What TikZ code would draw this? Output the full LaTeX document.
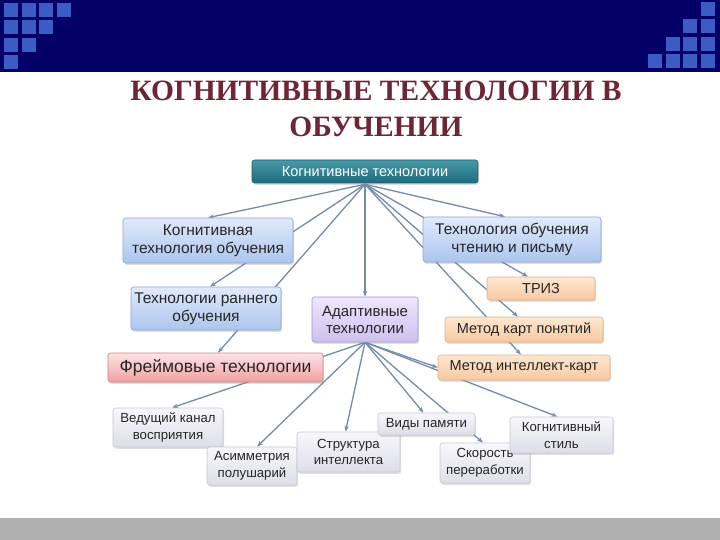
\documentclass[tikz,border=0pt]{standalone}
\usepackage{fontspec}
\setmainfont{Liberation Serif}
\newfontfamily\nsans{Liberation Sans}
\usetikzlibrary{arrows.meta,shadows,backgrounds}
\definecolor{navy}{RGB}{2,0,102}
\definecolor{sq}{RGB}{58,92,196}
\definecolor{barg}{RGB}{176,176,176}
\definecolor{titlec}{RGB}{110,38,52}
\definecolor{tealtop}{RGB}{72,152,166}
\definecolor{tealbot}{RGB}{30,108,124}
\definecolor{tealdraw}{RGB}{25,95,110}
\definecolor{bluetop}{RGB}{224,234,251}
\definecolor{bluebot}{RGB}{172,197,238}
\definecolor{bluedraw}{RGB}{140,165,210}
\definecolor{purptop}{RGB}{238,230,251}
\definecolor{purpbot}{RGB}{206,192,238}
\definecolor{purpdraw}{RGB}{165,150,210}
\definecolor{peachtop}{RGB}{253,232,208}
\definecolor{peachbot}{RGB}{248,200,160}
\definecolor{peachdraw}{RGB}{225,175,130}
\definecolor{pinktop}{RGB}{253,228,228}
\definecolor{pinkbot}{RGB}{240,160,160}
\definecolor{pinkdraw}{RGB}{210,130,130}
\definecolor{graytop}{RGB}{247,247,251}
\definecolor{graybot}{RGB}{222,222,232}
\definecolor{graydraw}{RGB}{200,200,212}
\definecolor{connc}{RGB}{115,140,170}
\begin{document}
\begin{tikzpicture}[x=1pt,y=-1pt,
  base/.style={rounded corners=2.5pt, inner sep=1pt, align=center, line width=0.6pt,
    text=black!85, font=\nsans\fontsize{15.5}{18}\selectfont,
    drop shadow={shadow xshift=1.2pt, shadow yshift=-1.8pt, opacity=0.25}},
  tealbox/.style={base, draw=tealdraw, top color=tealtop, bottom color=tealbot, text=white, font=\nsans\fontsize{14.5}{17}\selectfont},
  bluebox/.style={base, draw=bluedraw, top color=bluetop, bottom color=bluebot},
  purpbox/.style={base, draw=purpdraw, top color=purptop, bottom color=purpbot, font=\nsans\fontsize{15}{17}\selectfont},
  peachbox/.style={base, draw=peachdraw, top color=peachtop, bottom color=peachbot, font=\nsans\fontsize{14.5}{17}\selectfont},
  pinkbox/.style={base, draw=pinkdraw, top color=pinktop, bottom color=pinkbot, font=\nsans\fontsize{17.5}{19}\selectfont},
  graybox/.style={base, draw=graydraw, top color=graytop, bottom color=graybot, font=\nsans\fontsize{13.2}{16.5}\selectfont},
  conn/.style={draw=connc, line width=1.3pt, -{Stealth[length=6pt,width=4.5pt]}},
  sqr/.style={fill=sq, draw=none},
  ttl/.style={font=\bfseries\fontsize{29.5}{31}\selectfont, text=titlec, inner sep=0pt}
]
\useasboundingbox (0,0) rectangle (720,540);
\begin{scope}[on background layer]
  \fill[white] (0,0) rectangle (720,540);
\end{scope}
% top band and bottom bar
\fill[navy] (0,0) rectangle (720,72);
\fill[barg] (0,518) rectangle (720,540);
\foreach \r in {0,...,3}{
  \pgfmathtruncatemacro{\n}{3-\r}
  \foreach \c in {0,...,\n}{
    \fill[sqr] ({4+17.7*\c},{3+17.3*\r}) rectangle ++(14,14);
  }
  \foreach \c in {0,...,\r}{
    \fill[sqr] ({701-17.7*\c},{2+17.3*\r}) rectangle ++(14,14);
  }
}
% title
\node[ttl] (t1) at (376,91) {КОГНИТИВНЫЕ ТЕХНОЛОГИИ В};
\node[ttl] (t2) at (376,127) {ОБУЧЕНИИ};
% nodes
\node[tealbox, minimum width=226pt, minimum height=23pt] (top) at (365,171.5) {Когнитивные технологии};
\node[bluebox, minimum width=170pt, minimum height=45pt] (b2) at (208,240.5) {Когнитивная\\технология обучения};
\node[bluebox, minimum width=178pt, minimum height=45pt] (b3) at (512,239.5) {Технология обучения\\чтению и письму};
\node[bluebox, minimum width=150pt, minimum height=43pt] (b4) at (206,308.5) {Технологии раннего\\обучения};
\node[purpbox, minimum width=106pt, minimum height=45pt] (adapt) at (365,319.5) {Адаптивные\\технологии};
\node[peachbox, minimum width=108pt, minimum height=23pt] (triz) at (541,288.5) {ТРИЗ};
\node[peachbox, minimum width=158pt, minimum height=25pt] (kp) at (524,329.5) {Метод карт понятий};
\node[peachbox, minimum width=172pt, minimum height=25pt] (ik) at (524,367.5) {Метод интеллект-карт};
\node[pinkbox, minimum width=215pt, minimum height=29pt] (frame) at (215.5,367.5) {Фреймовые технологии};
\node[graybox, minimum width=110pt, minimum height=39pt] (ved) at (168,427.5) {Ведущий канал\\восприятия};
\node[graybox, minimum width=90pt, minimum height=38pt] (asym) at (252,466) {Асимметрия\\полушарий};
\node[graybox, minimum width=103pt, minimum height=40pt] (str) at (348.5,452) {Структура\\интеллекта};
\node[graybox, minimum width=97pt, minimum height=22pt] (vid) at (426.5,424) {Виды памяти};
\node[graybox, minimum width=90pt, minimum height=40pt] (sk) at (485,463) {Скорость\\переработки};
\node[graybox, minimum width=103pt, minimum height=36pt] (ks) at (561.5,435) {Когнитивный\\стиль};
% connectors
\begin{scope}[on background layer]
  \draw[conn] ([yshift=-1pt]top.south) -- (b2.north);
  \draw[conn] ([yshift=-1pt]top.south) -- ([xshift=4pt]b4.north);
  \draw[conn] ([yshift=-1pt]top.south) -- ([xshift=2.5pt]frame.north);
  \draw[conn] ([yshift=-1pt]top.south) -- (adapt.north);
  \draw[conn] ([yshift=-1pt]top.south) -- ([xshift=-7pt]b3.north);
  \draw[conn] ([yshift=-1pt]top.south) -- ([xshift=-13pt]triz.north);
  \draw[conn] ([yshift=-1pt]top.south) -- ([xshift=-6pt]kp.north);
  \draw[conn] ([yshift=-1pt]top.south) -- ([xshift=-3pt]ik.north);
  \draw[conn] (adapt.south) -- ([xshift=4pt]ved.north);
  \draw[conn] (adapt.south) -- ([xshift=5pt]asym.north);
  \draw[conn] (adapt.south) -- ([xshift=-3pt]str.north);
  \draw[conn] (adapt.south) -- ([xshift=-3pt]vid.north);
  \draw[conn] (adapt.south) -- ([xshift=-2pt]sk.north);
  \draw[conn] (adapt.south) -- (ik.west);
  \draw[conn] (adapt.south) -- ([xshift=-4pt]ks.north);
\end{scope}
\end{tikzpicture}
\end{document}
